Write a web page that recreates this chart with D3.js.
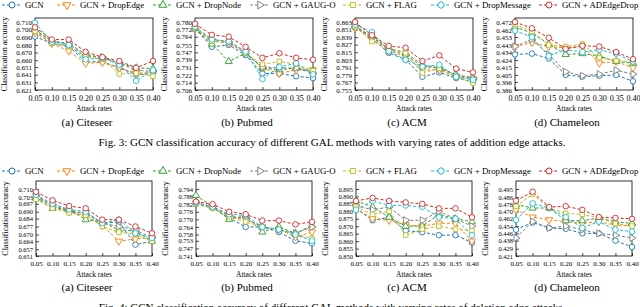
<!DOCTYPE html>
<html>
<head>
<meta charset="utf-8">
<script src="https://cdn.jsdelivr.net/npm/d3@7"></script>
<style>
  body { margin: 0; background: #fff; }
  text { font-family: "Liberation Serif", "Times New Roman", serif; fill: #000; }
</style>
</head>
<body>
<svg id="chart" width="640" height="307"></svg>
<script>
const rates = [0.05, 0.10, 0.15, 0.20, 0.25, 0.30, 0.35, 0.40];
const methods = ["GCN", "GCN + DropEdge", "GCN + DropNode", "GCN + GAUG-O", "GCN + FLAG", "GCN + DropMessage", "GCN + ADEdgeDrop"];
const datasetNames = ["(a) Citeseer", "(b) Pubmed", "(c) ACM", "(d) Chameleon"];

// Fig. 3 - addition edge attacks, one row per method (same order as methods)
const citeseerAdd = [
  [0.691, 0.682, 0.678, 0.658, 0.658, 0.650, 0.641, 0.643],
  [0.696, 0.682, 0.672, 0.656, 0.657, 0.650, 0.643, 0.644],
  [0.700, 0.685, 0.682, 0.668, 0.663, 0.656, 0.650, 0.649],
  [0.698, 0.685, 0.681, 0.665, 0.664, 0.656, 0.647, 0.645],
  [0.698, 0.682, 0.678, 0.665, 0.661, 0.642, 0.643, 0.639],
  [0.709, 0.684, 0.680, 0.661, 0.663, 0.654, 0.633, 0.647],
  [0.703, 0.687, 0.687, 0.671, 0.664, 0.659, 0.650, 0.659]
];
const pubmedAdd = [
  [0.773, 0.753, 0.755, 0.744, 0.724, 0.724, 0.721, 0.719],
  [0.773, 0.759, 0.757, 0.747, 0.730, 0.724, 0.728, 0.728],
  [0.773, 0.756, 0.737, 0.746, 0.730, 0.728, 0.730, 0.726],
  [0.773, 0.761, 0.758, 0.746, 0.731, 0.730, 0.730, 0.724],
  [0.774, 0.759, 0.760, 0.746, 0.734, 0.737, 0.734, 0.727],
  [0.775, 0.761, 0.759, 0.748, 0.718, 0.731, 0.735, 0.723],
  [0.778, 0.766, 0.764, 0.753, 0.741, 0.746, 0.741, 0.739]
];
const acmAdd = [
  [0.856, 0.837, 0.814, 0.803, 0.776, 0.783, 0.774, 0.768],
  [0.854, 0.836, 0.817, 0.808, 0.787, 0.787, 0.776, 0.773],
  [0.857, 0.840, 0.821, 0.814, 0.795, 0.790, 0.779, 0.774],
  [0.856, 0.839, 0.819, 0.811, 0.792, 0.790, 0.779, 0.774],
  [0.856, 0.832, 0.822, 0.814, 0.782, 0.789, 0.776, 0.766],
  [0.859, 0.847, 0.817, 0.803, 0.792, 0.795, 0.776, 0.771],
  [0.863, 0.842, 0.825, 0.822, 0.801, 0.810, 0.789, 0.783]
];
const chameleonAdd = [
  [0.431, 0.432, 0.426, 0.405, 0.403, 0.404, 0.405, 0.397],
  [0.441, 0.446, 0.441, 0.439, 0.441, 0.420, 0.422, 0.414],
  [0.466, 0.458, 0.444, 0.431, 0.432, 0.429, 0.422, 0.420],
  [0.441, 0.450, 0.431, 0.409, 0.404, 0.406, 0.411, 0.406],
  [0.469, 0.460, 0.443, 0.441, 0.444, 0.427, 0.423, 0.422],
  [0.461, 0.453, 0.429, 0.437, 0.434, 0.437, 0.432, 0.422],
  [0.472, 0.464, 0.452, 0.438, 0.442, 0.441, 0.434, 0.425]
];

// Fig. 4 - deletion edge attacks
const citeseerDel = [
  [0.703, 0.695, 0.690, 0.689, 0.680, 0.681, 0.661, 0.664],
  [0.704, 0.695, 0.690, 0.686, 0.678, 0.664, 0.666, 0.667],
  [0.702, 0.693, 0.692, 0.683, 0.681, 0.674, 0.673, 0.664],
  [0.704, 0.696, 0.691, 0.688, 0.680, 0.677, 0.674, 0.667],
  [0.701, 0.693, 0.689, 0.687, 0.677, 0.672, 0.670, 0.664],
  [0.705, 0.697, 0.692, 0.690, 0.680, 0.683, 0.671, 0.667],
  [0.7075, 0.700, 0.695, 0.693, 0.683, 0.683, 0.677, 0.671]
];
const pubmedDel = [
  [0.782, 0.779, 0.771, 0.764, 0.764, 0.760, 0.753, 0.751],
  [0.783, 0.780, 0.772, 0.770, 0.764, 0.762, 0.756, 0.760],
  [0.789, 0.780, 0.770, 0.773, 0.760, 0.764, 0.759, 0.765],
  [0.783, 0.780, 0.773, 0.770, 0.764, 0.762, 0.759, 0.764],
  [0.782, 0.779, 0.772, 0.768, 0.764, 0.762, 0.758, 0.755],
  [0.783, 0.780, 0.774, 0.773, 0.764, 0.762, 0.758, 0.753],
  [0.784, 0.782, 0.776, 0.774, 0.769, 0.769, 0.766, 0.768]
];
const acmDel = [
  [0.882, 0.874, 0.876, 0.867, 0.866, 0.864, 0.864, 0.859],
  [0.882, 0.875, 0.874, 0.871, 0.870, 0.872, 0.872, 0.860],
  [0.887, 0.883, 0.876, 0.870, 0.870, 0.878, 0.875, 0.873],
  [0.884, 0.881, 0.883, 0.874, 0.874, 0.880, 0.875, 0.870],
  [0.883, 0.878, 0.880, 0.864, 0.868, 0.870, 0.868, 0.867],
  [0.881, 0.887, 0.884, 0.884, 0.883, 0.876, 0.875, 0.864],
  [0.887, 0.889, 0.887, 0.886, 0.885, 0.882, 0.882, 0.876]
];
const chameleonDel = [
  [0.450, 0.458, 0.452, 0.451, 0.446, 0.446, 0.438, 0.431],
  [0.472, 0.464, 0.461, 0.459, 0.457, 0.459, 0.455, 0.454],
  [0.478, 0.474, 0.474, 0.460, 0.460, 0.463, 0.459, 0.457],
  [0.441, 0.459, 0.452, 0.454, 0.450, 0.446, 0.444, 0.441],
  [0.476, 0.489, 0.474, 0.468, 0.467, 0.463, 0.457, 0.454],
  [0.461, 0.479, 0.474, 0.464, 0.452, 0.459, 0.450, 0.448],
  [0.482, 0.492, 0.475, 0.476, 0.472, 0.464, 0.463, 0.462]
];

// y tick labels as printed on each panel
const citeseerAddTicks = [0.621, 0.631, 0.641, 0.651, 0.660, 0.670, 0.680, 0.690, 0.700, 0.710];
const pubmedAddTicks = [0.706, 0.714, 0.722, 0.731, 0.739, 0.747, 0.755, 0.764, 0.772, 0.780];
const acmAddTicks = [0.755, 0.767, 0.779, 0.791, 0.803, 0.815, 0.827, 0.839, 0.851, 0.863];
const chameleonAddTicks = [0.386, 0.396, 0.405, 0.415, 0.424, 0.434, 0.443, 0.453, 0.462, 0.472];
const citeseerDelTicks = [0.651, 0.657, 0.664, 0.670, 0.677, 0.684, 0.690, 0.697, 0.703, 0.710];
const pubmedDelTicks = [0.741, 0.747, 0.753, 0.758, 0.764, 0.770, 0.776, 0.782, 0.788, 0.794];
const acmDelTicks = [0.850, 0.855, 0.860, 0.865, 0.870, 0.875, 0.880, 0.885, 0.890, 0.895];
const chameleonDelTicks = [0.421, 0.429, 0.438, 0.446, 0.454, 0.462, 0.470, 0.478, 0.486, 0.495];

const captions = [
  "Fig. 3: GCN classification accuracy of different GAL methods with varying rates of addition edge attacks.",
  "Fig. 4: GCN classification accuracy of different GAL methods with varying rates of deletion edge attacks."
];

// styles
const colors = ["#1f77b4", "#ff7f0e", "#2ca02c", "#7f7f7f", "#bcbd22", "#17becf", "#d62728"];
const hexagon = {
  draw(ctx, size) {
    const r = Math.sqrt(size / 2.598);
    for (let i = 0; i < 6; i++) {
      const a = Math.PI / 6 + i * Math.PI / 3;
      if (i === 0) ctx.moveTo(r * Math.cos(a), r * Math.sin(a));
      else ctx.lineTo(r * Math.cos(a), r * Math.sin(a));
    }
    ctx.closePath();
  }
};
const markers = [
  { type: d3.symbolCircle, rot: 0 },
  { type: d3.symbolTriangle, rot: 180 },
  { type: d3.symbolTriangle, rot: 0 },
  { type: d3.symbolTriangle, rot: 90 },
  { type: d3.symbolSquare, rot: 0 },
  { type: hexagon, rot: 0 },
  { type: d3.symbolCircle, rot: 0 }
];
const markerSize = [24, 22, 22, 22, 20, 24, 24];

const svg = d3.select("#chart");

const rows = [
  { panels: [[citeseerAdd, citeseerAddTicks], [pubmedAdd, pubmedAddTicks], [acmAdd, acmAddTicks], [chameleonAdd, chameleonAddTicks]],
    legendY: 5, top: 18, tickTop: 22, bottom: 90, left: 35, width: 118, xFont: 8, yFont: 7, capY: 126, figY: 146, caption: captions[0] },
  { panels: [[citeseerDel, citeseerDelTicks], [pubmedDel, pubmedDelTicks], [acmDel, acmDelTicks], [chameleonDel, chameleonDelTicks]],
    legendY: 171, top: 181, tickTop: 189, bottom: 256, left: 36, width: 116, xFont: 7, yFont: 6.5, capY: 291, figY: 311, caption: captions[1] }
];

const legendX = [12, 67, 163, 260, 353, 441, 549];

function drawLegend(y) {
  const g = svg.append("g").attr("class", "legend");
  methods.forEach(function (m, i) {
    const cx = legendX[i];
    g.append("line")
      .attr("x1", cx - 10).attr("x2", cx + 10)
      .attr("y1", y).attr("y2", y)
      .attr("stroke", colors[i]).attr("stroke-width", 1)
      .attr("stroke-dasharray", "3,2");
    g.append("path")
      .attr("d", d3.symbol().type(markers[i].type).size(markerSize[i] * 1.2)())
      .attr("transform", "translate(" + cx + "," + y + ") rotate(" + markers[i].rot + ")")
      .attr("fill", "#fff").attr("stroke", colors[i]).attr("stroke-width", 1);
    g.append("text")
      .attr("x", cx + 13).attr("y", y).attr("dy", "0.35em")
      .style("font-size", "8.8px")
      .text(m);
  });
}

function drawPanel(row, col) {
  const series = row.panels[col][0];
  const ticks = row.panels[col][1];
  const left = row.left + 160 * col;
  const right = left + row.width;
  const g = svg.append("g");

  const x = d3.scaleLinear().domain([rates[0], rates[rates.length - 1]]).range([left, right]);
  const y = d3.scaleLinear().domain([ticks[0], ticks[ticks.length - 1]]).range([row.bottom, row.tickTop]);

  g.append("rect")
    .attr("x", left).attr("y", row.top)
    .attr("width", row.width).attr("height", row.bottom - row.top)
    .attr("fill", "none").attr("stroke", "#000").attr("stroke-width", 0.8);

  const xAxis = g.append("g")
    .attr("transform", "translate(0," + row.bottom + ")")
    .call(d3.axisBottom(x).tickValues(rates).tickFormat(d3.format(".2f")).tickSizeInner(-3).tickSizeOuter(0).tickPadding(5));
  xAxis.selectAll("text").style("font-size", row.xFont + "px");
  const yAxis = g.append("g")
    .attr("transform", "translate(" + left + ",0)")
    .call(d3.axisLeft(y).tickValues(ticks).tickFormat(d3.format(".3f")).tickSizeInner(-3).tickSizeOuter(0).tickPadding(3));
  yAxis.selectAll("text").style("font-size", row.yFont + "px");
  [xAxis, yAxis].forEach(function (a) {
    a.select(".domain").remove();
    a.selectAll("line").attr("stroke", "#000").attr("stroke-width", 0.7);
    a.selectAll("text").style("font-family", '"Liberation Serif", "Times New Roman", serif');
  });

  g.append("text")
    .attr("transform", "translate(" + (left - 31) + "," + ((row.top + row.bottom) / 2) + ") rotate(-90)")
    .attr("text-anchor", "middle")
    .attr("dy", "0.35em")
    .style("font-size", "8px")
    .text("Classification accuracy");

  g.append("text")
    .attr("x", (left + right) / 2).attr("y", row.bottom + 21)
    .attr("text-anchor", "middle")
    .style("font-size", "7.5px")
    .text("Attack rates");

  g.append("text")
    .attr("x", (left + right) / 2 - 7).attr("y", row.capY)
    .attr("text-anchor", "middle")
    .style("font-size", "11px")
    .text(datasetNames[col]);

  const line = d3.line()
    .x(function (d, i) { return x(rates[i]); })
    .y(function (d) { return y(d); });

  series.forEach(function (vals, si) {
    g.append("path")
      .attr("d", line(vals))
      .attr("fill", "none")
      .attr("stroke", colors[si])
      .attr("stroke-width", 1)
      .attr("stroke-dasharray", "3,2");
    g.selectAll(null)
      .data(vals)
      .join("path")
      .attr("d", d3.symbol().type(markers[si].type).size(markerSize[si])())
      .attr("transform", function (d, i) {
        return "translate(" + x(rates[i]) + "," + y(d) + ") rotate(" + markers[si].rot + ")";
      })
      .attr("fill", "#fff")
      .attr("stroke", colors[si])
      .attr("stroke-width", 0.9);
  });
}

rows.forEach(function (row) {
  drawLegend(row.legendY);
  for (let c = 0; c < 4; c++) drawPanel(row, c);
  svg.append("text")
    .attr("x", 332).attr("y", row.figY)
    .attr("text-anchor", "middle")
    .style("font-size", "11px")
    .text(row.caption);
});
</script>
</body>
</html>
